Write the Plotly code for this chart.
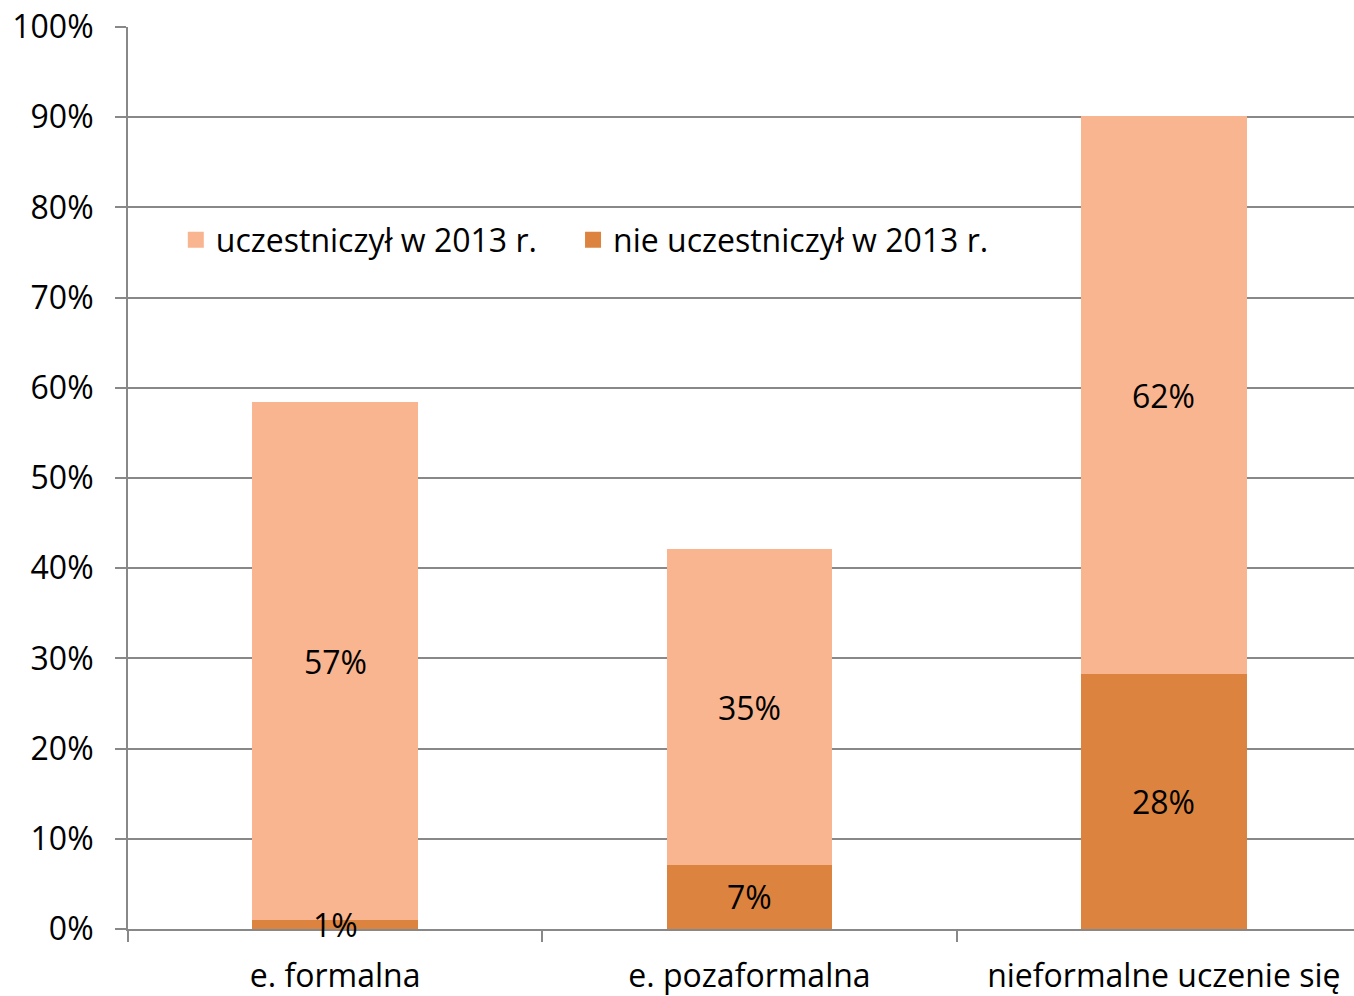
import plotly.graph_objects as go

categories = ['e. formalna', 'e. pozaformalna', 'nieformalne uczenie się']
nie_uczestniczyl = [1.0, 7.1, 28.3]
uczestniczyl = [57.4, 35.0, 61.8]
labels_nie = ['1%', '7%', '28%']
labels_ucz = ['57%', '35%', '62%']
y_ticks = [0, 10, 20, 30, 40, 50, 60, 70, 80, 90, 100]

font_family = 'Open Sans, Noto Sans, sans-serif'
light = '#F9B590'
dark = '#DC843F'
fs = 32

fig = go.Figure()
fig.add_trace(go.Bar(x=categories, y=nie_uczestniczyl, name='nie uczestniczył w 2013 r.',
                     marker=dict(color=dark, line=dict(width=0)), showlegend=False))
fig.add_trace(go.Bar(x=categories, y=uczestniczyl, name='uczestniczył w 2013 r.',
                     marker=dict(color=light, line=dict(width=0)), showlegend=False))

# data labels at segment middles
mid_nie = [v / 2 for v in nie_uczestniczyl]
mid_ucz = [a + b / 2 for a, b in zip(nie_uczestniczyl, uczestniczyl)]
for cat, y, txt in zip(categories * 2, mid_nie + mid_ucz, labels_nie + labels_ucz):
    fig.add_annotation(x=cat, y=y, text=txt, showarrow=False,
                       font=dict(size=fs, color='black', family=font_family))

# legend entries (two legends so the spacing can be set)
fig.add_trace(go.Scatter(x=[None], y=[None], mode='markers', name='uczestniczył w 2013 r.',
                         marker=dict(symbol='square', size=20, color=light), legend='legend'))
fig.add_trace(go.Scatter(x=[None], y=[None], mode='markers', name='nie uczestniczył w 2013 r.',
                         marker=dict(symbol='square', size=20, color=dark), legend='legend2'))

leg = dict(orientation='h', y=0.764, xanchor='left', yanchor='middle',
           font=dict(size=fs), bgcolor='rgba(0,0,0,0)', itemsizing='trace', itemwidth=30)

fig.update_layout(
    barmode='stack',
    bargap=0.6,
    width=1354, height=996,
    margin=dict(l=128, r=0, t=27, b=67),
    plot_bgcolor='white', paper_bgcolor='white',
    font=dict(family=font_family, size=fs, color='black'),
    legend=dict(leg, x=0.039),
    legend2=dict(leg, x=0.363),
    showlegend=True,
)
fig.update_xaxes(
    range=[-0.5, 2.459],
    showline=True, linecolor='#888888', linewidth=2, automargin=False,
    ticks='outside', tickson='boundaries', ticklen=11, tickcolor='#888888', tickwidth=2,
    showgrid=False, tickfont=dict(size=fs), ticklabelstandoff=18,
)
fig.update_yaxes(
    range=[0, 100], tickvals=y_ticks, ticktext=[f'{t}%' for t in y_ticks],
    showline=True, linecolor='#888888', linewidth=2, automargin=False,
    ticks='outside', ticklen=11, tickcolor='#888888', tickwidth=2,
    showgrid=True, gridcolor='#888888', gridwidth=2, zeroline=False,
    tickfont=dict(size=fs), ticklabelstandoff=15, ticklabeloverflow='allow',
)

fig.write_html('out.html', config={'displayModeBar': False},
               post_script="document.body.style.margin='0';")
